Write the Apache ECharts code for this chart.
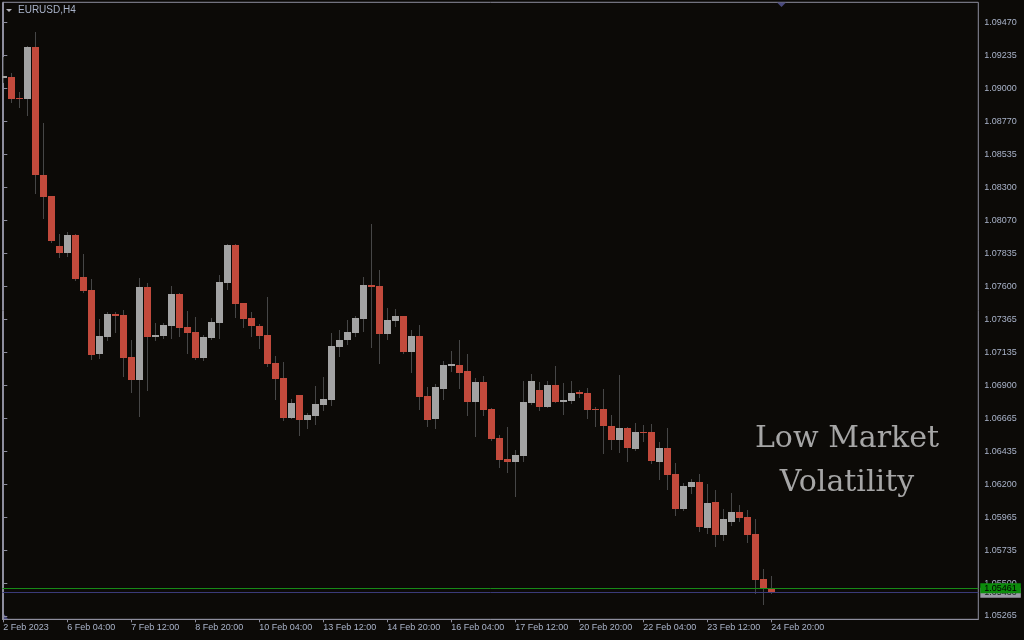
<!DOCTYPE html>
<html>
<head>
<meta charset="utf-8">
<script src="https://cdn.jsdelivr.net/npm/echarts@6/dist/echarts.min.js"></script>
<style>
html,body{margin:0;padding:0;background:#0c0a07;}
#chart{width:1024px;height:640px;}
</style>
</head>
<body>
<div id="chart"></div>
<script>
// ---- data (EURUSD H4) ----
const opens  = [1.09078,1.09085,1.08936,1.08929,1.09298,1.08391,1.08242,1.07887,1.07838,1.07965,
                1.07668,1.07576,1.07122,1.07242,1.07405,1.07398,1.07101,1.06938,1.07597,1.07242,
                1.07250,1.07320,1.07547,1.07313,1.07278,1.07094,1.07235,1.07342,1.07625,1.07894,
                1.07483,1.07377,1.07320,1.07257,1.07058,1.06952,1.06668,1.06831,1.06654,1.06683,
                1.06760,1.06796,1.07172,1.07221,1.07271,1.07370,1.07611,1.07604,1.07264,1.07356,
                1.07391,1.07136,1.07250,1.06824,1.06661,1.06874,1.07037,1.07044,1.07001,1.06782,
                1.06924,1.06732,1.06527,1.06378,1.06357,1.06399,1.06775,1.06867,1.06746,1.06902,
                1.06782,1.06789,1.06853,1.06846,1.06732,1.06732,1.06612,1.06512,1.06597,1.06449,
                1.06569,1.06569,1.06357,1.06456,1.06271,1.06023,1.06179,1.06215,1.05889,1.06073,
                1.05839,1.05931,1.06002,1.05967,1.05846,1.05527,1.05463];
const highs  = [1.09227,1.09114,1.08979,1.09305,1.09404,1.08759,1.08242,1.07972,1.07987,1.07972,
                1.07831,1.07654,1.07370,1.07420,1.07420,1.07434,1.07221,1.07661,1.07625,1.07342,
                1.07342,1.07604,1.07554,1.07427,1.07384,1.07257,1.07377,1.07682,1.07902,1.07902,
                1.07483,1.07420,1.07335,1.07526,1.07108,1.07065,1.06803,1.06831,1.06704,1.06895,
                1.06959,1.07271,1.07292,1.07363,1.07391,1.07668,1.08043,1.07717,1.07448,1.07441,
                1.07391,1.07292,1.07327,1.06888,1.06909,1.07072,1.07143,1.07221,1.07122,1.06952,
                1.06966,1.06739,1.06548,1.06605,1.06442,1.06931,1.06980,1.06924,1.06931,1.07037,
                1.06916,1.06931,1.06867,1.06881,1.06746,1.06874,1.06690,1.06973,1.06605,1.06633,
                1.06619,1.06626,1.06498,1.06597,1.06349,1.06208,1.06236,1.06271,1.06201,1.06158,
                1.06023,1.06137,1.06052,1.06016,1.05953,1.05598,1.05549];
const lows   = [1.09043,1.08901,1.08865,1.08809,1.08256,1.08079,1.07909,1.07802,1.07809,1.07639,
                1.07554,1.07079,1.07087,1.07214,1.07271,1.06959,1.06846,1.06675,1.06860,1.07214,
                1.07228,1.07228,1.07242,1.07122,1.07079,1.07072,1.07221,1.07228,1.07576,1.07377,
                1.07306,1.07242,1.07157,1.07030,1.06796,1.06647,1.06661,1.06541,1.06590,1.06619,
                1.06718,1.06753,1.07101,1.07186,1.07242,1.07278,1.07164,1.07051,1.07221,1.07313,
                1.07122,1.06987,1.06725,1.06605,1.06590,1.06796,1.06994,1.06874,1.06683,1.06534,
                1.06683,1.06505,1.06314,1.06279,1.06108,1.06357,1.06760,1.06718,1.06739,1.06775,
                1.06690,1.06768,1.06810,1.06661,1.06605,1.06413,1.06442,1.06420,1.06357,1.06434,
                1.06498,1.06342,1.06229,1.06158,1.05974,1.06009,1.06130,1.05860,1.05846,1.05754,
                1.05797,1.05903,1.05931,1.05782,1.05421,1.05343,1.05421];
const closes = [1.09092,1.08929,1.08929,1.09298,1.08391,1.08235,1.07923,1.07838,1.07965,1.07654,
                1.07568,1.07115,1.07250,1.07405,1.07391,1.07094,1.06938,1.07597,1.07242,1.07257,
                1.07327,1.07547,1.07306,1.07271,1.07094,1.07242,1.07349,1.07632,1.07894,1.07476,
                1.07370,1.07320,1.07250,1.07051,1.06945,1.06668,1.06775,1.06654,1.06690,1.06768,
                1.06803,1.07179,1.07221,1.07278,1.07377,1.07611,1.07597,1.07264,1.07363,1.07391,
                1.07136,1.07250,1.06817,1.06654,1.06888,1.07044,1.07051,1.06987,1.06782,1.06924,
                1.06725,1.06520,1.06371,1.06357,1.06406,1.06782,1.06931,1.06746,1.06902,1.06782,
                1.06796,1.06846,1.06838,1.06725,1.06725,1.06612,1.06512,1.06597,1.06456,1.06569,
                1.06562,1.06364,1.06456,1.06264,1.06023,1.06186,1.06215,1.05896,1.06066,1.05839,
                1.05953,1.06002,1.05960,1.05839,1.05520,1.05456,1.05428];

const timeTickLabels = ['2 Feb 2023','6 Feb 04:00','7 Feb 12:00','8 Feb 20:00','10 Feb 04:00',
                        '13 Feb 12:00','14 Feb 20:00','16 Feb 04:00','17 Feb 12:00','20 Feb 20:00',
                        '22 Feb 04:00','23 Feb 12:00','24 Feb 20:00'];
const barsPerTimeTick = 8;
const priceTickLabels = ['1.05265','1.05500','1.05735','1.05965','1.06200','1.06435','1.06665',
                         '1.06900','1.07135','1.07365','1.07600','1.07835','1.08070','1.08300',
                         '1.08535','1.08770','1.09000','1.09235','1.09470'];
const askPrice = 1.05461;
const bidPrice = 1.05430;
const symbolTitle = 'EURUSD,H4';
const noteLines = ['Low Market', 'Volatility'];

// ---- derived ----
const candleData = opens.map((o, i) => [i, o, closes[i], lows[i], highs[i]]);
const tickLow = parseFloat(priceTickLabels[0]);
const tickHigh = parseFloat(priceTickLabels[priceTickLabels.length - 1]);
const tickStep = (tickHigh - tickLow) / (priceTickLabels.length - 1);
const priceTickValues = priceTickLabels.map((_, k) => tickLow + k * tickStep);
const timeTickValues = timeTickLabels.map((_, k) => k * barsPerTimeTick);

const UP = '#a3a3a3', DOWN = '#c24a3c', WICK = '#464646';
const FRAME = '#8e8e9e', TXT = '#a9b3c9';

function renderCandle(params, api) {
  const i = api.value(0);
  const pO = api.coord([i, api.value(1)]);
  const pC = api.coord([i, api.value(2)]);
  const pL = api.coord([i, api.value(3)]);
  const pH = api.coord([i, api.value(4)]);
  const col = Math.floor(pO[0]);
  const up = api.value(2) > api.value(1);
  let top = Math.round(Math.min(pO[1], pC[1]));
  let bot = Math.round(Math.max(pO[1], pC[1]));
  if (bot - top < 1) bot = top + 1;
  const hy = Math.round(pH[1]), ly = Math.round(pL[1]);
  return {
    type: 'group',
    children: [
      {type: 'rect', shape: {x: col, y: hy, width: 1, height: Math.max(1, ly - hy)}, style: {fill: WICK}},
      {type: 'rect', shape: {x: col - 3, y: top, width: 7, height: bot - top}, style: {fill: up ? UP : DOWN}}
    ]
  };
}

const priceTagLabel = (bg, fg, val) => ({
  show: true, position: 'end', distance: 2, formatter: () => val.toFixed(5),
  backgroundColor: bg, color: fg, padding: [1, 4, 0, 4], fontSize: 9, fontFamily: 'Liberation Sans'
});

const chart = echarts.init(document.getElementById('chart'), null, {renderer: 'canvas'});
chart.setOption({
  backgroundColor: '#0c0a07',
  animation: false,
  grid: {left: 2.5, right: 45.7, top: 2.3, bottom: 20.7, show: true, borderColor: FRAME, borderWidth: 1, backgroundColor: 'transparent'},
  xAxis: {
    type: 'value', min: -0.1, max: 121.9,
    axisLine: {show: true, lineStyle: {color: FRAME}},
    axisTick: {show: true, length: 3, lineStyle: {color: FRAME}, customValues: timeTickValues},
    axisLabel: {
      show: true, customValues: timeTickValues, align: 'left', margin: 4,
      color: TXT, fontSize: 9, fontFamily: 'Liberation Sans',
      formatter: v => timeTickLabels[Math.round(v / barsPerTimeTick)] || ''
    },
    splitLine: {show: false}
  },
  yAxis: {
    type: 'value', position: 'right', min: 1.052416, max: 1.096146, scale: true,
    axisLine: {show: true, lineStyle: {color: FRAME}},
    axisTick: {show: true, length: 4, lineStyle: {color: FRAME}, customValues: priceTickValues},
    axisLabel: {
      show: true, customValues: priceTickValues, margin: 6,
      color: TXT, fontSize: 9, fontFamily: 'Liberation Sans',
      formatter: v => priceTickLabels[Math.round((v - tickLow) / tickStep)] || ''
    },
    splitLine: {show: false}
  },
  series: [
    {
      type: 'custom', renderItem: renderCandle, data: candleData, clip: true,
      encode: {x: 0, y: [1, 2, 3, 4]}, silent: true,
      markLine: {
        symbol: 'none', silent: true, animation: false, precision: 5,
        data: [
          {yAxis: bidPrice, lineStyle: {color: '#3a3a78', width: 1, type: 'solid'},
           label: priceTagLabel('#9a9aa6', '#1a1a22', bidPrice)},
          {yAxis: askPrice, lineStyle: {color: '#178a17', width: 1, type: 'solid'},
           label: priceTagLabel('#0c8c0c', '#000000', askPrice)}
        ]
      }
    }
  ],
  graphic: [
    {type: 'polygon', shape: {points: [[6, 9], [12, 9], [9, 12]]}, style: {fill: '#b4b4bc'}, silent: true},
    {type: 'text', x: 18, y: 5, style: {text: symbolTitle, fill: TXT, font: '10px "Liberation Sans"', textVerticalAlign: 'top'}, silent: true},
    {type: 'polygon', shape: {points: [[777, 2.5], [786, 2.5], [781.5, 7]]}, style: {fill: '#4a4a7e'}, silent: true},
    {type: 'polygon', shape: {points: [[3, 613], [3, 619], [8, 619]]}, style: {fill: '#4a4a7e'}, silent: true},
    {type: 'text', x: 847, y: 439, style: {text: noteLines[0], fill: '#a6a6a6', font: '30px "DejaVu Serif"', textAlign: 'center', textVerticalAlign: 'middle'}, silent: true},
    {type: 'text', x: 847, y: 483, style: {text: noteLines[1], fill: '#a6a6a6', font: '30px "DejaVu Serif"', textAlign: 'center', textVerticalAlign: 'middle'}, silent: true}
  ]
});
</script>
</body>
</html>
